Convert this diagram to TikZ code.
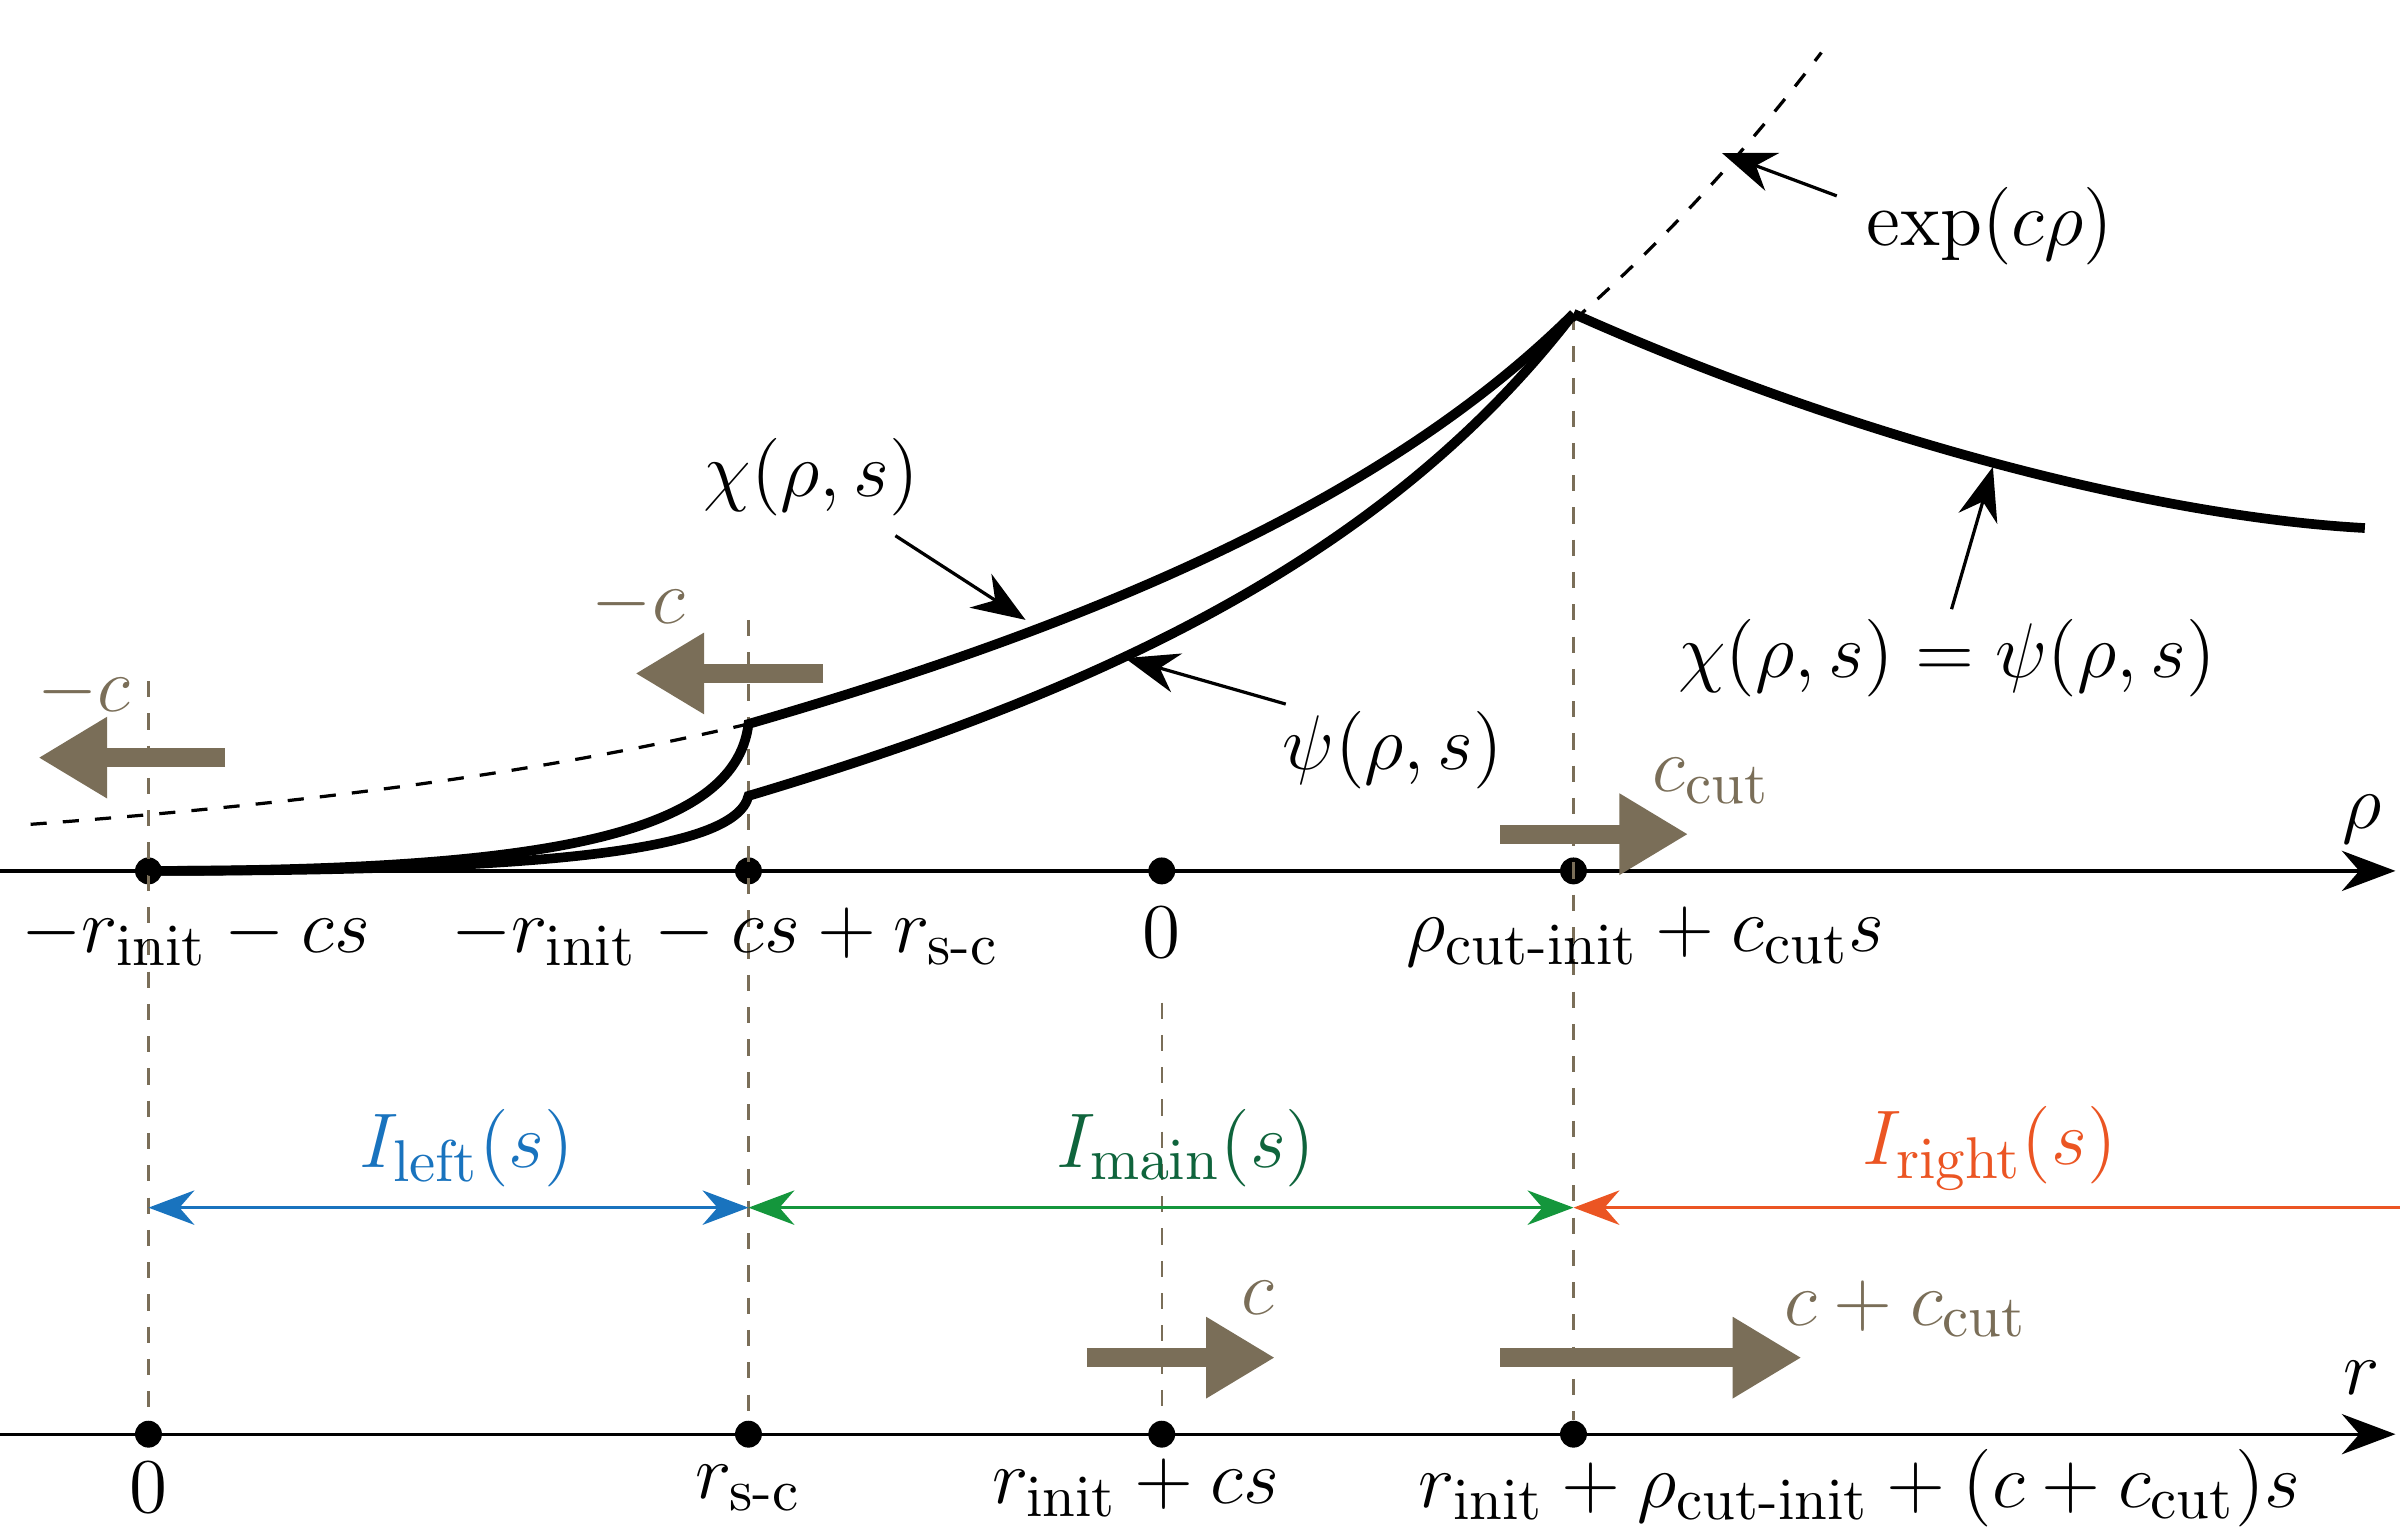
\documentclass[tikz,border=0pt]{standalone}
\usepackage{amsmath}
\usetikzlibrary{arrows.meta}
\definecolor{speed}{RGB}{122,110,88}
\definecolor{leftc}{RGB}{25,115,190}
\definecolor{mainc}{RGB}{20,150,60}
\definecolor{maintxt}{RGB}{15,100,60}
\definecolor{rightc}{RGB}{235,85,35}
\tikzset{
    dot/.style={circle, fill=black, minimum size=5pt, inner sep=0pt},
    guide/.style={dashed, speed, thin},
    axis/.style={-{Stealth[length=3.5mm]}, semithick},
    curve/.style={line width=1.8pt},
    speedarrow/.style={speed, line width=3.5pt, -{Triangle[length=4.5mm,width=5mm]}},
    interval/.style={{Stealth[length=3mm]}-{Stealth[length=3mm]}, semithick},
    note/.style={-{Stealth[length=3.5mm]}, semithick},
    txt/.style={font=\fontsize{15.7}{19}\selectfont}
}
\begin{document}
\begin{tikzpicture}[txt]
\useasboundingbox (0,0) rectangle (15.68,10.02);

% axes and points
\coordinate (rho0) at (0,4.33);
\coordinate (rho1) at (15.65,4.33);
\coordinate (r0) at (0,0.65);
\coordinate (r1) at (15.65,0.65);
\draw[axis] (rho0) -- (rho1);
\draw[axis] (r0) -- (r1);
\node at (15.43,4.67) {$\rho$};
\node at (15.43,1.02) {$r$};

\node[dot] (pa) at (0.97,4.33) {};
\node[dot] (pb) at (4.89,4.33) {};
\node[dot] (pc) at (7.59,4.33) {};
\node[dot] (pd) at (10.28,4.33) {};
\node[dot] (qa) at (0.97,0.65) {};
\node[dot] (qb) at (4.89,0.65) {};
\node[dot] (qc) at (7.59,0.65) {};
\node[dot] (qd) at (10.28,0.65) {};

% guides
\coordinate (ga) at (0.97,5.57);
\coordinate (gb) at (4.89,5.97);
\coordinate (gc) at (7.59,3.47);
\coordinate (gd) at (10.28,7.97);
\draw[guide] (ga) -- (qa);
\draw[guide] (gb) -- (qb);
\draw[guide] (gc) -- (qc);
\draw[guide] (gd) -- (qd);

% tick labels
\node at (1.28,3.9) {$-r_{\mathrm{init}}-cs$};
\node at (4.74,3.9) {$-r_{\mathrm{init}}-cs+r_{\mathrm{s\text{-}c}}$};
\node at (7.59,3.93) {$0$};
\node at (10.75,3.9) {$\rho_{\mathrm{cut\text{-}init}}+c_{\mathrm{cut}}s$};
\node at (0.97,0.3) {$0$};
\node at (4.89,0.3) {$r_{\mathrm{s\text{-}c}}$};
\node at (7.42,0.3) {$r_{\mathrm{init}}+cs$};
\node at (12.15,0.3) {$r_{\mathrm{init}}+\rho_{\mathrm{cut\text{-}init}}+(c+c_{\mathrm{cut}})s$};

% curves
\draw[dashed, semithick] plot[domain=0.2:4.89, samples=40] (\x,{4.33+0.96*exp(0.245*(\x-4.89))});
\draw[dashed, semithick] plot[domain=10.28:11.9, samples=30] (\x,{4.33+0.96*exp(0.245*(\x-4.89))});
\draw[curve] (pa.center) .. controls (3.5,4.33) and (4.8,4.55) .. (4.89,5.29)
    .. controls (7,5.9) and (9,6.7) .. (gd);
\draw[curve] (pa.center) .. controls (3.5,4.33) and (4.8,4.45) .. (4.89,4.82)
    .. controls (7,5.45) and (9,6.3) .. (gd);
\draw[curve] (gd) .. controls (12,7.2) and (14,6.65) .. (15.45,6.57);

% annotations
\node (chi) at (5.3,6.9) {$\chi(\rho,s)$};
\node (psi) at (9.1,5.12) {$\psi(\rho,s)$};
\node (expo) at (13.0,8.54) {$\exp(c\rho)$};
\node (both) at (12.72,5.72) {$\chi(\rho,s)=\psi(\rho,s)$};
\draw[note] (5.85,6.52) -- (6.7,5.97);
\draw[note] (8.4,5.42) -- (7.35,5.72);
\draw[note] (12.0,8.74) -- (11.25,9.02);
\draw[note] (12.75,6.04) -- (13.02,6.97);

% speeds
\draw[speedarrow] (1.47,5.07) -- (0.25,5.07);
\draw[speedarrow] (5.38,5.62) -- (4.15,5.62);
\draw[speedarrow] (9.8,4.57) -- (11.03,4.57);
\draw[speedarrow] (7.1,1.15) -- (8.33,1.15);
\draw[speedarrow] (9.8,1.15) -- (11.77,1.15);
\node[speed] at (0.55,5.5) {$-c$};
\node[speed] at (4.17,6.07) {$-c$};
\node[speed] at (11.18,4.92) {$c_{\mathrm{cut}}$};
\node[speed] at (8.22,1.54) {$c$};
\node[speed] at (12.45,1.47) {$c+c_{\mathrm{cut}}$};

% intervals
\coordinate (ia) at (0.97,2.13);
\coordinate (ib) at (4.89,2.13);
\coordinate (id) at (10.28,2.13);
\coordinate (ie) at (15.68,2.13);
\draw[interval, leftc] (ia) -- (ib);
\draw[interval, mainc] (ib) -- (id);
\draw[-{Stealth[length=3mm]}, semithick, rightc] (ie) -- (id);
\node[leftc] at (3.05,2.52) {$I_{\mathrm{left}}(s)$};
\node[maintxt] at (7.75,2.52) {$I_{\mathrm{main}}(s)$};
\node[rightc] at (13.0,2.52) {$I_{\mathrm{right}}(s)$};
\end{tikzpicture}
\end{document}
